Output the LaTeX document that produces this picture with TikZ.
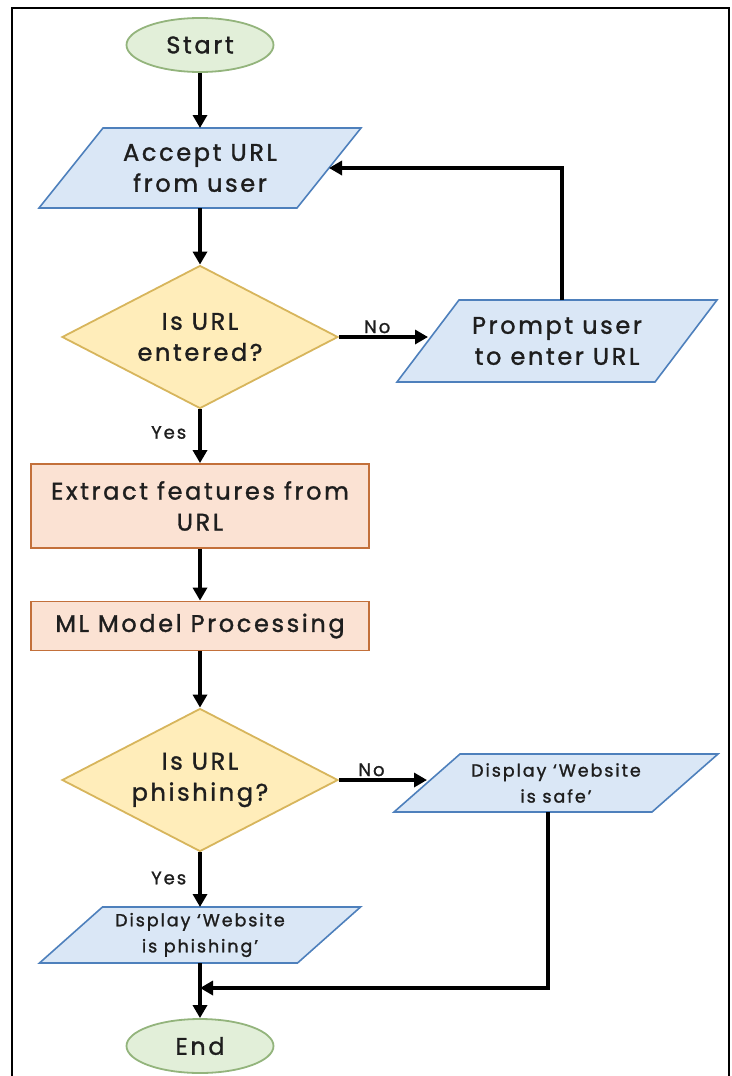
\documentclass[tikz,border=0pt]{standalone}
\usepackage{fontspec}
\setmainfont{Poppins}[LetterSpace=11, FakeBold=1.3]
\usetikzlibrary{shapes.geometric,arrows.meta}
\definecolor{termfill}{HTML}{E2EFD9}
\definecolor{termdraw}{HTML}{93B47C}
\definecolor{iofill}{HTML}{DAE7F6}
\definecolor{iodraw}{HTML}{4E80BC}
\definecolor{decfill}{HTML}{FFEDBA}
\definecolor{decdraw}{HTML}{D7B55C}
\definecolor{procfill}{HTML}{FBE2D3}
\definecolor{procdraw}{HTML}{C3703A}
\definecolor{txt}{HTML}{1E1E1E}
\pgfdeclarelayer{bg}
\pgfsetlayers{bg,main}
\newcommand\ioshape[2]{%
  \begin{pgfonlayer}{bg}
    \filldraw[iobox] ([xshift=#2/2]#1.north west) -- ([xshift=#2/2]#1.north east)
      -- ([xshift=-#2/2]#1.south east) -- ([xshift=-#2/2]#1.south west) -- cycle;
  \end{pgfonlayer}}
\begin{document}
\begin{tikzpicture}[x=1pt,y=-1pt,
  every node/.style={text=txt},
  bigtext/.style={font=\fontsize{24}{31}\selectfont, align=center},
  smalltext/.style={font=\fontsize{17.5}{26}\selectfont, align=center},
  lbl/.style={font=\fontsize{18}{20}\selectfont, inner sep=2pt},
  term/.style={ellipse, draw=termdraw, fill=termfill, line width=1.8pt, minimum width=147pt, minimum height=54pt, inner sep=0pt, bigtext},
  io/.style={rectangle, minimum width=258pt, inner sep=0pt, outer sep=0pt},
  iobox/.style={draw=iodraw, fill=iofill, line width=1.6pt, line join=miter},
  dec/.style={diamond, draw=decdraw, fill=decfill, line width=1.8pt, minimum width=276pt, minimum height=143pt, aspect=1.93, inner sep=0pt, bigtext},
  proc/.style={rectangle, draw=procdraw, fill=procfill, line width=1.8pt, minimum width=338pt, inner sep=0pt, bigtext},
  arr/.style={line width=3.6pt, -{Triangle[length=13pt,width=14pt]}}
]
\useasboundingbox (0,0) rectangle (731,1076);
\draw[line width=1.3pt] (12,1080) -- (12,8) -- (729,8) -- (729,1080);

\node[term] (start) at (200,45) {Start};
\node[io, bigtext, minimum height=80pt] (accept) at (200,168) {Accept URL\\from user};
\ioshape{accept}{64}
\node[dec] (dec1) at (200,337) {Is URL\\entered?};
\node[io, bigtext, minimum height=82pt] (prompt) at (557,341) {Prompt user\\to enter URL};
\ioshape{prompt}{62}
\node[proc, minimum height=84pt] (extract) at (200,506) {Extract features from\\URL};
\node[proc, minimum height=49pt] (ml) at (200,626) {ML Model Processing};
\node[dec] (dec2) at (200,780) {Is URL\\phishing?};
\node[io, smalltext, minimum height=58pt] (safe) at (556,783) {Display ‘Website\\is safe’};
\ioshape{safe}{66}
\node[io, smalltext, minimum height=56pt] (phish) at (200,935) {Display ‘Website\\is phishing’};
\ioshape{phish}{63}
\node[term] (end) at (200,1046) {End};
\coordinate (merge) at (200,988);

\draw[arr] (start) -- (accept);
\draw[arr] (accept) -- (dec1);
\draw[arr] (dec1.east) -- node[lbl, above, pos=0.43] (no1) {No} (prompt.west |- dec1.east);
\draw[arr] ([xshift=5pt]prompt.north) |- (accept.east);
\draw[arr] (dec1) -- node[lbl, left=10pt, pos=0.43] (yes1) {Yes} (extract);
\draw[arr] (extract) -- (ml);
\draw[arr] (ml) -- (dec2);
\draw[arr] (dec2.east) -- node[lbl, above, pos=0.37] (no2) {No} (safe.west |- dec2.east);
\draw[arr] (dec2) -- node[lbl, left=10pt, pos=0.47] (yes2) {Yes} (phish);
\draw[arr] (phish) -- (end);
\draw[arr] ([xshift=-8pt]safe.south) |- (merge);
\end{tikzpicture}
\end{document}
